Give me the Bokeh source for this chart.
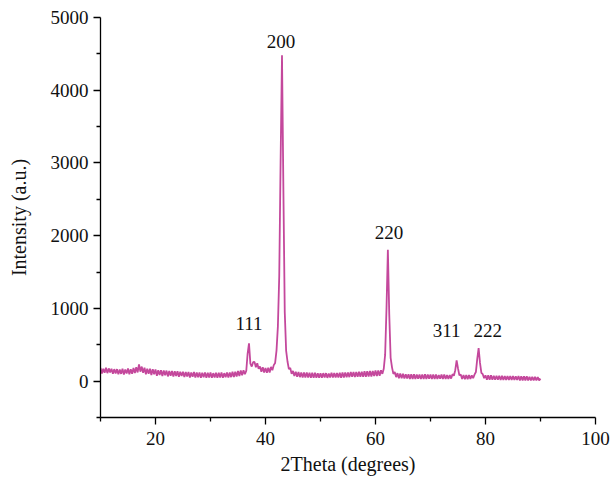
from bokeh.plotting import figure
from bokeh.models import ColumnDataSource, Range1d, FixedTicker
from bokeh.core.properties import value
from bokeh.embed import file_html
from bokeh.resources import INLINE

# 2-theta scan: 10.00 .. 90.00 deg, step 0.25 deg
start_2theta = 10.0
step_2theta = 0.25

intensity = [
    180, 105, 170, 115,  185, 110, 175, 120,  170, 100, 165, 105,  165, 95, 160, 100,    # 10-13
    170, 90, 160, 105,   175, 95, 165, 100,   180, 110, 190, 120,  230, 130, 200, 115,   # 14-17
    185, 95, 170, 100,   170, 85, 165, 95,    160, 75, 150, 85,    150, 70, 145, 80,     # 18-21
    145, 65, 140, 75,    140, 65, 135, 70,    135, 60, 130, 70,    130, 55, 125, 65,     # 22-25
    125, 50, 120, 60,    125, 50, 120, 55,    120, 45, 115, 55,    120, 45, 115, 50,     # 26-29
    120, 45, 110, 50,    115, 45, 115, 50,    120, 45, 110, 55,    120, 50, 120, 55,     # 30-33
    130, 55, 130, 65,    140, 70, 145, 80,    150, 95, 140, 380,   520, 240, 200, 260,   # 34-37
    265, 190, 245, 170,  200, 130, 190, 120,  180, 115, 185, 120,  195, 150, 220, 250,   # 38-41
    420, 750, 1450, 3050, 4480, 2650, 950, 420, 270, 165, 180, 100, 140, 70, 130, 60,   # 42-45
    125, 55, 120, 50,    120, 50, 120, 50,    115, 45, 115, 45,    115, 45, 110, 45,     # 46-49
    110, 45, 110, 50,    110, 45, 105, 50,    115, 50, 110, 50,    110, 50, 115, 45,     # 50-53
    120, 50, 120, 55,    120, 55, 125, 60,    125, 55, 125, 60,    130, 60, 130, 60,     # 54-57
    135, 60, 135, 65,    140, 65, 140, 70,    145, 70, 145, 75,    150, 100, 170, 360,   # 58-61
    1000, 1805, 920, 320, 190, 100, 125, 55,  110, 40, 105, 40,    100, 35, 95, 35,      # 62-65
    95, 30, 95, 30,      95, 30, 90, 35,      90, 30, 90, 30,      95, 30, 90, 35,       # 66-69
    90, 30, 90, 30,      90, 30, 85, 35,      90, 30, 90, 30,      85, 30, 85, 35,       # 70-73
    95, 75, 150, 285,    175, 80, 90, 30,     85, 25, 85, 25,      85, 30, 80, 40,       # 74-77
    90, 125, 305, 455,   250, 115, 95, 40,    80, 20, 80, 20,      80, 20, 75, 20,       # 78-81
    75, 20, 75, 15,      75, 15, 70, 15,      70, 15, 70, 15,      70, 15, 65, 15,       # 82-85
    70, 10, 65, 10,      65, 10, 65, 10,      60, 10, 60, 10,      60, 10, 55, 10,       # 86-89
    35,                                                                                  # 90
]
two_theta = [start_2theta + step_2theta * i for i in range(len(intensity))]

# Peak (hkl) labels at the reflections
peak_labels = ["111", "200", "220", "311", "222"]
peak_2theta = [37.0, 43.0, 62.25, 74.75, 78.75]

x_ticks = [20, 40, 60, 80, 100]
x_minor = [10, 30, 50, 70, 90]
y_ticks = [0, 1000, 2000, 3000, 4000, 5000]
y_minor = [-500, 500, 1500, 2500, 3500, 4500]

FONT = "Liberation Serif"
LINE_COLOR = "#C4489C"

p = figure(width=612, height=480, output_backend="svg", toolbar_location=None,
           x_range=Range1d(10, 100), y_range=Range1d(-500, 5000),
           min_border_left=100, min_border_right=17, min_border_top=17, min_border_bottom=63)
p.outline_line_color = None
p.xgrid.visible = False
p.ygrid.visible = False
p.background_fill_color = "white"
p.border_fill_color = "white"

src = ColumnDataSource(dict(x=two_theta, y=intensity))
p.line("x", "y", source=src, line_color=LINE_COLOR, line_width=1.8)

# labels located at the peak maxima (offsets in screen pixels)
peak_heights = [intensity[two_theta.index(px)] for px in peak_2theta]
lab_src = ColumnDataSource(dict(x=peak_2theta, y=peak_heights, t=peak_labels,
                                dx=[0, -1, 1, -10, 9], dy=[-20, -14, -17, -30, -18]))
p.text("x", "y", text="t", source=lab_src, x_offset="dx", y_offset="dy",
       text_align="center", text_baseline="middle",
       text_font=value(FONT), text_font_size="19px", text_color="#111111")

for ax in (p.xaxis[0], p.yaxis[0]):
    ax.axis_line_color = "black"
    ax.axis_line_width = 1.3
    ax.major_tick_line_color = "black"
    ax.minor_tick_line_color = "black"
    ax.major_tick_line_width = 1.3
    ax.minor_tick_line_width = 1.3
    ax.major_tick_in = 0
    ax.major_tick_out = 7
    ax.minor_tick_in = 0
    ax.minor_tick_out = 4
    ax.major_label_text_font = FONT
    ax.major_label_text_font_size = "19px"
    ax.major_label_text_color = "#111111"
    ax.axis_label_text_font = FONT
    ax.axis_label_text_font_size = "20px"
    ax.axis_label_text_font_style = "normal"
    ax.axis_label_text_color = "#111111"

p.xaxis[0].ticker = FixedTicker(ticks=x_ticks, minor_ticks=x_minor)
p.yaxis[0].ticker = FixedTicker(ticks=y_ticks, minor_ticks=y_minor)
p.xaxis[0].axis_label = "2Theta (degrees)"
p.yaxis[0].axis_label = "Intensity (a.u.)"
p.xaxis[0].major_label_standoff = 7
p.xaxis[0].axis_label_standoff = 5
p.yaxis[0].major_label_standoff = 5
p.yaxis[0].axis_label_standoff = 18

open("out.html", "w").write(file_html(p, INLINE))
